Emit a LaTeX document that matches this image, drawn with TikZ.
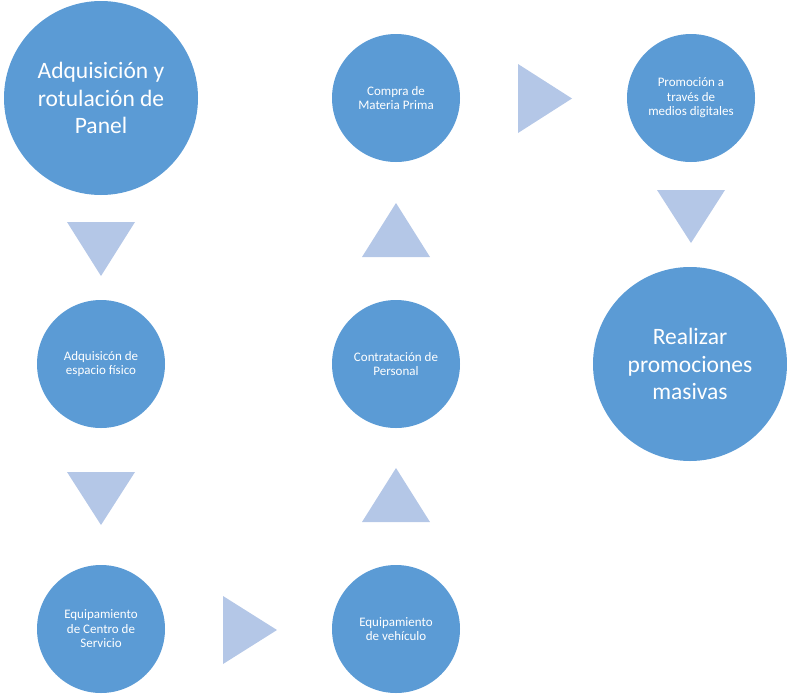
\documentclass[tikz,border=0pt]{standalone}
\usepackage{fontspec}
\setmainfont{Carlito}
\definecolor{circ}{HTML}{5B9BD5}
\definecolor{tri}{HTML}{B4C7E7}
\begin{document}
\begin{tikzpicture}[x=1pt,y=-1pt,
  basec/.style={circle,fill=circ,inner sep=0pt,text=white,align=center},
  bigc/.style={basec,minimum size=194pt,font=\fontsize{23.5}{27.5}\selectfont},
  smallc/.style={basec,minimum size=128pt,font=\fontsize{13}{14.5}\selectfont},
  arrowtri/.style={fill=tri}]
\useasboundingbox (0,0) rectangle (787,694);
% circles
\node[bigc]   (panel)    at (101,98)  {Adquisición y\\rotulación de\\Panel};
\node[smallc] (espacio)  at (101,364) {Adquisicón de\\espacio físico};
\node[smallc] (centro)   at (101,629) {Equipamiento\\de Centro de\\Servicio};
\node[smallc] (vehiculo) at (396,629) {Equipamiento\\de vehículo};
\node[smallc] (personal) at (396,364) {Contratación de\\Personal};
\node[smallc] (compra)   at (396,98)  {Compra de\\Materia Prima};
\node[smallc] (digital)  at (691,98)  {Promoción a\\través de\\medios digitales};
\node[bigc]   (masivas)  at (690,364) {Realizar\\promociones\\masivas};
% triangles
\fill[arrowtri] (67,222) -- (135,222) -- (101,276) -- cycle;
\fill[arrowtri] (67,472) -- (135,472) -- (101,525) -- cycle;
\fill[arrowtri] (223,596) -- (277,630) -- (223,664) -- cycle;
\fill[arrowtri] (362,522) -- (430,522) -- (396,468) -- cycle;
\fill[arrowtri] (362,257) -- (430,257) -- (396,203) -- cycle;
\fill[arrowtri] (518,64) -- (572,98.5) -- (518,133) -- cycle;
\fill[arrowtri] (657,190) -- (725,190) -- (691,243) -- cycle;
\end{tikzpicture}
\end{document}
